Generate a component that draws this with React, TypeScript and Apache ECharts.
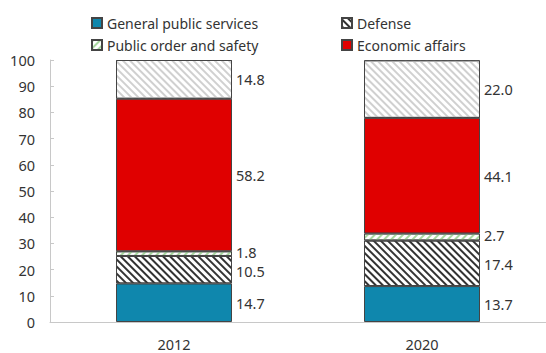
import React, { useEffect, useRef } from "react";
import * as echarts from "echarts";

const categories = ["2012", "2020"];
const generalPublic = [14.7, 13.7];
const defense = [10.5, 17.4];
const publicOrder = [1.8, 2.7];
const economic = [58.2, 44.1];
const other = [14.8, 22.0];
const yTicks = { min: 0, max: 100, interval: 10 };

const FONT = "'Noto Sans', 'Open Sans', sans-serif";

export default function App() {
  const ref = useRef<HTMLDivElement>(null);
  useEffect(() => {
    if (!ref.current) return;
    const chart = echarts.init(ref.current, undefined, { renderer: "svg" });
    const border = { borderColor: "#444444", borderWidth: 1 };
    const makeLabel = (offsetY: number) => ({
      show: true,
      position: "right",
      distance: 4,
      offset: [0, offsetY],
      color: "#333",
      fontSize: 14.5,
      lineHeight: 15,
      fontFamily: FONT,
      formatter: (p: any) => Number(p.value).toFixed(1),
    });
    const hatch = (color: string, rotation: number, dash: number[]) => ({
      symbol: "rect",
      symbolSize: 1,
      color,
      backgroundColor: "#ffffff",
      rotation,
      dashArrayX: [1, 0],
      dashArrayY: dash,
    });
    const mk = (name: string, data: number[], itemStyle: any, offsetY = 0) => ({
      name,
      type: "bar",
      stack: "total",
      barWidth: 116,
      data,
      label: makeLabel(offsetY),
      itemStyle: { ...border, ...itemStyle },
      emphasis: { disabled: true },
    });
    chart.setOption({
      animation: false,
      textStyle: { fontFamily: FONT },
      grid: { left: 50, top: 60, width: 500, height: 262, containLabel: false },
      legend: [
        {
          orient: "vertical",
          left: 86,
          top: 11,
          itemWidth: 10,
          itemHeight: 10,
          itemGap: 8,
          icon: "rect",
          data: ["General public services", "Public order and safety"],
          textStyle: { color: "#333", fontSize: 14, fontFamily: FONT },
          selectedMode: false,
        },
        {
          orient: "vertical",
          left: 336,
          top: 11,
          itemWidth: 10,
          itemHeight: 10,
          itemGap: 8,
          icon: "rect",
          data: ["Defense", "Economic affairs"],
          textStyle: { color: "#333", fontSize: 14, fontFamily: FONT },
          selectedMode: false,
        },
      ],
      xAxis: {
        type: "category",
        data: categories,
        axisLine: { lineStyle: { color: "#c8c8c8" } },
        axisTick: { show: false },
        axisLabel: { color: "#333", fontSize: 14.5, margin: 14, fontFamily: FONT },
      },
      yAxis: {
        type: "value",
        min: yTicks.min,
        max: yTicks.max,
        interval: yTicks.interval,
        splitLine: { show: false },
        axisLine: { show: true, lineStyle: { color: "#c8c8c8" } },
        axisTick: { show: true, inside: true, length: 4, lineStyle: { color: "#c8c8c8" } },
        axisLabel: { color: "#333", fontSize: 14.5, margin: 15, fontFamily: FONT },
      },
      series: [
        mk("General public services", generalPublic, { color: "#0f87ad" }),
        mk("Defense", defense, {
          color: "#ffffff",
          decal: hatch("#333333", Math.PI / 4, [1.5, 2.5]),
        }, 1),
        mk("Public order and safety", publicOrder, {
          color: "#ffffff",
          decal: hatch("#a8d8a0", -Math.PI / 4, [1.5, 2.5]),
        }, -1.5),
        mk("Economic affairs", economic, { color: "#e00000" }),
        mk("Other", other, {
          color: "#ffffff",
          decal: hatch("#d0d0d0", Math.PI / 4, [1.5, 2.5]),
        }),
      ],
    });
    return () => chart.dispose();
  }, []);
  return (
    <div
      ref={ref}
      style={{ position: "absolute", left: 0, top: 0, width: 546, height: 353 }}
    />
  );
}
